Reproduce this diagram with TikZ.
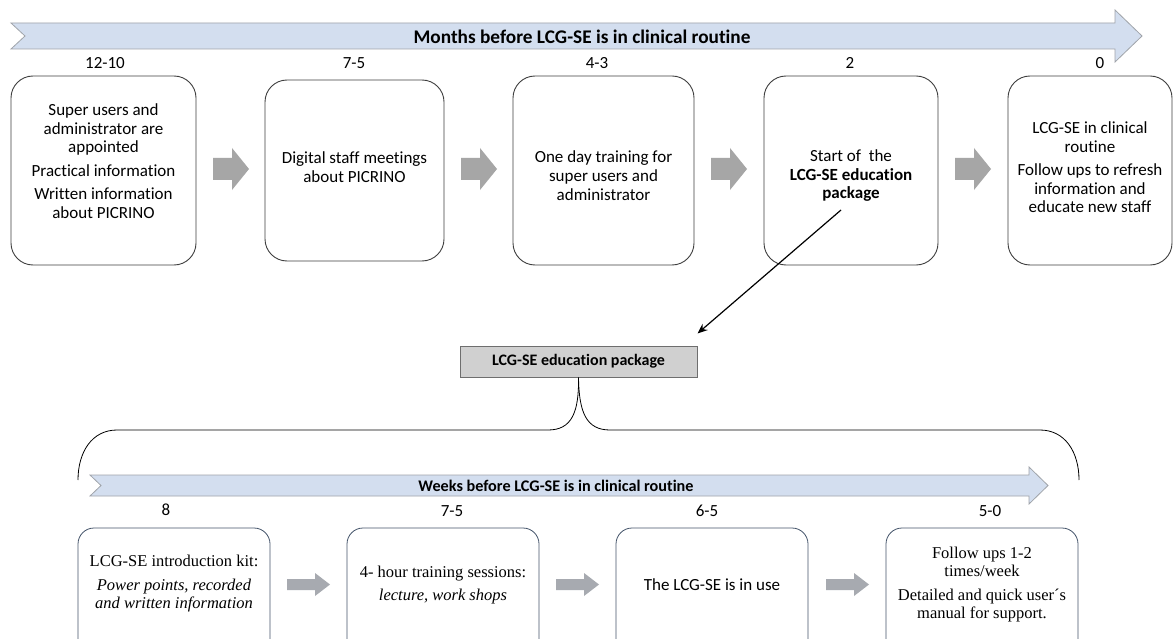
\documentclass[tikz,border=0pt]{standalone}
\usepackage{fontspec}
\setmainfont{Liberation Serif}
\newfontfamily\cali[Ligatures=NoCommon]{Carlito}
\usetikzlibrary{arrows.meta}
\definecolor{barblue}{HTML}{D3DEEF}
\definecolor{barline}{HTML}{A0A4AA}
\definecolor{blockgray}{HTML}{A6A6A6}
\definecolor{blockgraytwo}{HTML}{A7AAB0}
\definecolor{boxline}{HTML}{3F3F3F}
\definecolor{boxlinetwo}{HTML}{44546A}
\definecolor{pkgfill}{HTML}{D0D0D0}
\definecolor{pkgline}{HTML}{6E6E6E}
\tikzset{
  topbox/.style={draw=boxline, line width=0.9pt, rounded corners=22pt, inner sep=0pt},
  botbox/.style={draw=boxlinetwo, line width=0.8pt, rounded corners=16pt, inner sep=0pt,
    minimum width=192pt, minimum height=134pt},
  toptext/.style={font=\cali\fontsize{17}{18.7}\selectfont, align=center, inner sep=0pt},
  bottext/.style={font=\fontsize{16.5}{18}\selectfont, align=center, inner sep=0pt},
  lbl/.style={font=\cali\fontsize{17}{20}\selectfont, inner sep=0pt},
  bartitle/.style={font=\cali\bfseries\fontsize{19.3}{21}\selectfont, inner sep=0pt},
  bartitletwo/.style={font=\cali\bfseries\fontsize{16.2}{18}\selectfont, inner sep=0pt},
  bararrow/.style={draw=barline, fill=barblue, line width=0.8pt},
  blockarrow/.style={fill=blockgray, draw=none},
  blockarrowtwo/.style={fill=blockgraytwo, draw=none},
  pkgbox/.style={draw=pkgline, fill=pkgfill, line width=1pt, inner sep=0pt,
    minimum width=237pt, minimum height=31pt, font=\cali\bfseries\fontsize{16}{18}\selectfont},
  link/.style={line width=1.2pt, -{Stealth[length=10pt,width=8pt]}},
  brace/.style={line width=0.8pt, draw=black}
}
\begin{document}
\begin{tikzpicture}[x=1pt,y=-1pt]
\useasboundingbox (0,0) rectangle (1174,639);
\clip (0,0) rectangle (1174,639);
\fill[white] (0,0) rectangle (1174,639);

% ---- top timeline bar
\draw[bararrow] (11,23) -- (1115,23) -- (1115,10) -- (1142,36) -- (1115,62) -- (1115,49) -- (11,49) -- (25,36) -- cycle;
\node[bartitle] (mtitle) at (582,37) {Months before LCG-SE is in clinical routine};

% ---- top labels
\node[lbl] (l1) at (105,63) {12-10};
\node[lbl] (l2) at (354,63) {7-5};
\node[lbl] (l3) at (597,63) {4-3};
\node[lbl] (l4) at (850,63) {2};
\node[lbl] (l5) at (1100,63) {0};

% ---- top boxes
\node[topbox, minimum width=185pt, minimum height=189pt] (b1) at (103.5,170.5) {};
\node[topbox, minimum width=179pt, minimum height=181pt] (b2) at (354.5,170.5) {};
\node[topbox, minimum width=181pt, minimum height=189pt] (b3) at (603.5,170.5) {};
\node[topbox, minimum width=174pt, minimum height=189pt] (b4) at (851,170.5) {};
\node[topbox, minimum width=164pt, minimum height=189pt] (b5) at (1090,170.5) {};

\node[toptext] (t1) at (103.5,161) {Super users and\\administrator are\\appointed\\[4.5pt]Practical information\\[4.5pt]Written information\\about PICRINO};
\node[toptext] (t2) at (354.5,167) {Digital staff meetings\\about PICRINO};
\node[toptext] (t3) at (603.5,175.5) {One day training for\\super users and\\administrator};
\node[toptext] (t4) at (851,175.5) {Start of\ \ the\\[0.5pt]\textbf{LCG-SE education}\\\textbf{package}};
\node[toptext] (t5) at (1090,167.5) {LCG-SE in clinical\\routine\\[4.5pt]Follow ups to refresh\\information and\\educate new staff};

% ---- top block arrows
\foreach \c in {231,479,729,973}{
  \fill[blockarrow] (\c-18,158) -- (\c+1,158) -- (\c+1,148) -- (\c+18,169) -- (\c+1,190) -- (\c+1,180) -- (\c-18,180) -- cycle;
}

% ---- package box and link
\node[pkgbox] (pkg) at (578.5,361.5) {LCG-SE education package};
\coordinate (src) at (841,210);
\draw[link] (src) -- ([yshift=12pt]pkg.north east);

% ---- brace
\draw[brace] (pkg.south) .. controls (579,412) and (572,430) .. (548,430) -- (117,430)
  .. controls (92,430) and (78,452) .. (78,480);
\draw[brace] (pkg.south) .. controls (579,412) and (586,430) .. (610,430) -- (1040,430)
  .. controls (1065,430) and (1079,452) .. (1079,480);

% ---- bottom timeline bar
\draw[bararrow] (90,475) -- (1029,475) -- (1029,467) -- (1048,485.5) -- (1029,504) -- (1029,496) -- (90,496) -- (101,485.5) -- cycle;
\node[bartitletwo] (wtitle) at (556,486) {Weeks before LCG-SE is in clinical routine};

% ---- bottom labels
\node[lbl] (m1) at (166,510) {8};
\node[lbl] (m2) at (452,511) {7-5};
\node[lbl] (m3) at (707,511) {6-5};
\node[lbl] (m4) at (990,511) {5-0};

% ---- bottom boxes
\node[botbox] (c1) at (174,595) {};
\node[botbox] (c2) at (443,595) {};
\node[botbox] (c3) at (712,595) {};
\node[botbox] (c4) at (982,595) {};

\node[bottext] (u1) at (174,584) {LCG-SE introduction kit:\\[6pt]\textit{Power points, recorded}\\\textit{and written information}};
\node[bottext] (u2) at (443,585) {4- hour training sessions:\\[5pt]\textit{lecture, work shops}};
\node[toptext] (u3) at (712,585) {The LCG-SE is in use};
\node[bottext] (u4) at (982,585) {Follow ups 1-2\\times/week\\[6pt]Detailed and quick user´s\\manual for support.};

% ---- bottom block arrows
\foreach \c in {308,577,847}{
  \fill[blockarrowtwo] (\c-21,579) -- (\c+7,579) -- (\c+7,573) -- (\c+22,584.5) -- (\c+7,596) -- (\c+7,590) -- (\c-21,590) -- cycle;
}
\end{tikzpicture}
\end{document}
